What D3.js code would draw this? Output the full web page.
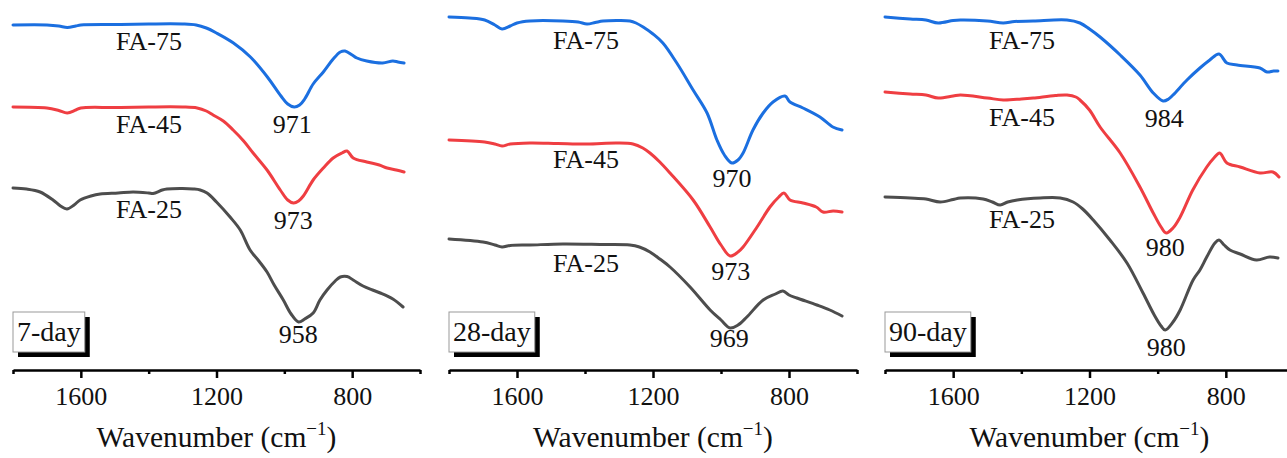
<!DOCTYPE html>
<html><head><meta charset="utf-8">
<script src="https://cdn.jsdelivr.net/npm/d3@7"></script>
<style>
body{margin:0;background:#fff}
svg{display:block}
text{font-family:"Liberation Serif","Times New Roman",serif;fill:#111}
</style>
</head><body><svg id="c" width="1287" height="458"></svg>
<script>
// ---------- data ----------
const panelNames = ["7-day", "28-day", "90-day"];
const seriesNames = ["FA-75", "FA-45", "FA-25"];
const majorTicks = [1600, 1200, 800];
const minorTicks = [1800, 1400, 1000, 600];
const axisTitle = "Wavenumber (cm";

// [wavenumber (cm-1), offset transmittance (a.u.)]
const day7_FA75 = [[1800,34.5],[1700,34.5],[1665,34.4],[1640,34.25],[1615,34.4],[1600,34.5],[1500,34.55],[1400,34.6],[1300,34.6],[1260,34.5],[1230,34.2],[1200,33.7],[1150,32.7],[1100,31.3],[1050,29.3],[1010,27.4],[990,26.6],[971,26.3],[955,26.5],[940,27.1],[915,28.6],[885,29.8],[856,31.1],[835,31.8],[821,31.9],[800,31.5],[786,31.2],[757,30.9],[710,30.7],[680,30.9],[665,30.8],[647,30.7]];
const day7_FA45 = [[1800,26.3],[1700,26.2],[1665,25.95],[1640,25.7],[1615,26.0],[1600,26.2],[1500,26.25],[1400,26.3],[1300,26.3],[1257,26.2],[1230,25.9],[1210,25.5],[1180,24.9],[1151,24.0],[1120,22.9],[1092,21.7],[1051,20.0],[1012,18.0],[990,17.0],[973,16.7],[958,16.9],[944,17.4],[915,19.0],[885,20.2],[856,21.2],[830,21.7],[815,21.9],[797,21.2],[757,20.8],[720,20.5],[697,20.2],[670,20.0],[647,19.8]];
const day7_FA25 = [[1800,18.2],[1760,18.1],[1720,17.8],[1682,17.0],[1660,16.4],[1641,16.1],[1620,16.5],[1602,17.0],[1570,17.4],[1543,17.6],[1490,17.7],[1446,17.8],[1400,17.7],[1387,17.65],[1360,18.0],[1346,18.1],[1300,18.15],[1269,18.1],[1248,18.0],[1228,17.7],[1200,16.8],[1160,15.3],[1130,14.0],[1101,12.0],[1075,10.9],[1051,9.8],[1030,8.5],[1003,7.0],[980,5.6],[958,4.8],[940,5.1],[915,5.7],[895,7.0],[874,8.0],[850,8.9],[835,9.3],[815,9.35],[797,9.0],[768,8.4],[740,8.0],[717,7.7],[680,7.1],[650,6.3]];

const day28_FA75 = [[1800,35.3],[1740,35.2],[1695,35.0],[1665,34.5],[1644,34.1],[1620,34.4],[1600,34.7],[1562,34.9],[1465,34.9],[1420,34.8],[1394,34.6],[1370,34.75],[1347,34.9],[1300,34.95],[1268,34.9],[1250,34.7],[1229,34.3],[1200,33.6],[1171,32.7],[1130,30.7],[1082,28.0],[1041,25.7],[1012,23.0],[990,21.5],[968,20.7],[950,21.0],[935,21.7],[906,24.0],[876,25.7],[847,26.8],[812,27.4],[797,26.8],[759,26.2],[709,25.3],[671,24.3],[644,24.0]];
const day28_FA45 = [[1800,23.0],[1695,22.8],[1665,22.6],[1644,22.4],[1620,22.6],[1562,22.7],[1480,22.65],[1394,22.6],[1306,22.7],[1259,22.6],[1230,22.2],[1209,21.7],[1180,20.8],[1150,19.7],[1082,17.0],[1032,14.3],[1000,12.5],[973,11.4],[950,11.8],[935,12.3],[894,14.3],[856,16.3],[830,17.3],[815,17.7],[797,17.0],[759,16.7],[720,16.3],[700,15.8],[670,15.9],[644,15.8]];
const day28_FA25 = [[1800,13.1],[1700,12.8],[1665,12.5],[1644,12.3],[1620,12.45],[1562,12.5],[1465,12.6],[1350,12.55],[1268,12.5],[1240,12.3],[1209,11.8],[1180,11.1],[1150,10.3],[1091,8.3],[1032,6.0],[1000,5.0],[973,4.2],[950,4.5],[924,5.3],[876,7.0],[840,7.6],[818,7.9],[800,7.5],[777,7.2],[718,6.5],[680,6.0],[644,5.4]];

const day90_FA75 = [[1800,35.3],[1726,35.1],[1680,35.0],[1644,34.7],[1600,34.95],[1579,35.0],[1500,34.9],[1453,34.7],[1420,34.85],[1365,34.9],[1266,35.0],[1228,34.7],[1200,34.1],[1169,33.3],[1110,31.5],[1052,29.5],[1013,27.7],[984,26.9],[968,27.1],[955,27.5],[914,29.0],[876,30.2],[847,31.0],[820,31.6],[797,30.7],[767,30.5],[700,30.2],[679,29.8],[660,29.9],[647,29.9]];
const day90_FA45 = [[1800,27.8],[1726,27.6],[1680,27.5],[1644,27.2],[1600,27.4],[1579,27.5],[1500,27.2],[1453,27.0],[1400,27.1],[1365,27.2],[1300,27.45],[1266,27.5],[1240,27.3],[1228,27.0],[1200,26.0],[1169,24.3],[1110,21.7],[1052,18.3],[1013,15.7],[990,14.3],[975,13.7],[955,14.2],[934,15.3],[897,18.0],[856,20.3],[835,21.2],[818,21.7],[797,20.7],[758,20.3],[700,19.7],[662,19.8],[644,19.3]];
const day90_FA25 = [[1800,17.3],[1726,17.2],[1680,17.1],[1638,16.8],[1600,17.05],[1579,17.2],[1512,17.1],[1485,16.8],[1462,16.5],[1440,16.8],[1412,17.0],[1345,17.2],[1286,17.2],[1248,16.8],[1220,16.1],[1189,15.0],[1140,13.0],[1090,10.7],[1043,7.7],[1010,5.5],[990,4.4],[978,4.0],[955,4.8],[934,6.0],[896,9.0],[876,10.0],[856,11.3],[832,12.7],[820,13.0],[805,12.5],[788,12.0],[758,11.6],[710,11.0],[672,11.3],[647,11.2]];

// peak positions (cm-1) labelled in each panel
const peaks7 = [971, 973, 958];
const peaks28 = [970, 973, 969];
const peaks90 = [984, 980, 980];

// label anchors [wavenumber, a.u.]
const nameAnchors7 = [[1399,32.0],[1399,23.7],[1399,15.2]];
const peakAnchors7 = [[977,23.7],[974,14.1],[959,2.7]];
const nameAnchors28 = [[1397,32.1],[1397,20.2],[1397,9.8]];
const peakAnchors28 = [[968,18.3],[971,9.0],[976,2.3]];
const nameAnchors90 = [[1398,32.1],[1398,24.4],[1398,14.2]];
const peakAnchors90 = [[981,24.3],[978,11.4],[975,1.4]];

// ---------- drawing ----------
const colors = ["#1b6fe0", "#ef3e42", "#4d4d4d"];
const panelData = [
  {name: panelNames[0], series: [day7_FA75, day7_FA45, day7_FA25], peaks: peaks7, nameA: nameAnchors7, peakA: peakAnchors7, range: [13, 420]},
  {name: panelNames[1], series: [day28_FA75, day28_FA45, day28_FA25], peaks: peaks28, nameA: nameAnchors28, peakA: peakAnchors28, range: [449, 857]},
  {name: panelNames[2], series: [day90_FA75, day90_FA45, day90_FA25], peaks: peaks90, nameA: nameAnchors90, peakA: peakAnchors90, range: [885, 1294]}
];

const svg = d3.select("#c");
const axisY = 370;
const y = d3.scaleLinear().domain([0, 37]).range([370, 0]);

panelData.forEach(p => {
  const x = d3.scaleLinear().domain([1800, 600]).range(p.range);
  const g = svg.append("g");
  const line = d3.line().x(d => x(d[0])).y(d => y(d[1])).curve(d3.curveCatmullRom.alpha(0.5));

  p.series.forEach((s, i) => {
    g.append("path").datum(s).attr("d", line)
      .attr("fill", "none").attr("stroke", colors[i])
      .attr("stroke-width", 3).attr("stroke-linejoin", "round").attr("stroke-linecap", "round");
  });

  p.nameA.forEach((a, i) => {
    g.append("text").attr("x", x(a[0])).attr("y", y(a[1]))
      .attr("text-anchor", "middle").attr("font-size", 26).text(seriesNames[i]);
  });
  p.peakA.forEach((a, i) => {
    g.append("text").attr("x", x(a[0])).attr("y", y(a[1]))
      .attr("text-anchor", "middle").attr("font-size", 26).text(p.peaks[i]);
  });

  const ax = g.append("g").attr("transform", `translate(0,${axisY})`);
  ax.call(d3.axisBottom(x).tickValues(majorTicks).tickSize(8).tickSizeOuter(0).tickPadding(6).tickFormat(d3.format("d")));
  ax.select(".domain").attr("stroke", "#000").attr("stroke-width", 2.5);
  ax.selectAll(".tick line").attr("stroke", "#000").attr("stroke-width", 2.5);
  ax.selectAll(".tick text").attr("font-size", 26).attr("font-family", "Liberation Serif, serif").attr("fill", "#111").attr("dy", "0.8em");
  const mn = g.append("g").attr("transform", `translate(0,${axisY})`);
  mn.call(d3.axisBottom(x).tickValues(minorTicks).tickSize(4).tickSizeOuter(0).tickFormat(""));
  mn.select(".domain").remove();
  mn.selectAll(".tick line").attr("stroke", "#000").attr("stroke-width", 2.5);

  const t = g.append("text").attr("x", x(1200)).attr("y", 447)
    .attr("text-anchor", "middle").attr("font-size", 29.5);
  t.append("tspan").text(axisTitle);
  t.append("tspan").attr("font-size", 19).attr("dy", -12).text("\u22121");
  t.append("tspan").attr("dy", 12).text(")");

  const bx = p.range[0], by = 312;
  const lbl = g.append("text").attr("font-size", 28).text(p.name);
  const w = lbl.node().getComputedTextLength() + 8;
  const h = 40;
  g.insert("rect", "text").attr("x", bx + 5).attr("y", by + 5).attr("width", w).attr("height", h).attr("fill", "#000");
  g.insert("rect", "text").attr("x", bx).attr("y", by).attr("width", w).attr("height", h)
    .attr("fill", "#fff").attr("stroke", "#999").attr("stroke-width", 1);
  lbl.attr("x", bx + 4).attr("y", by + 29);
  lbl.raise();
});
</script>
</body></html>
